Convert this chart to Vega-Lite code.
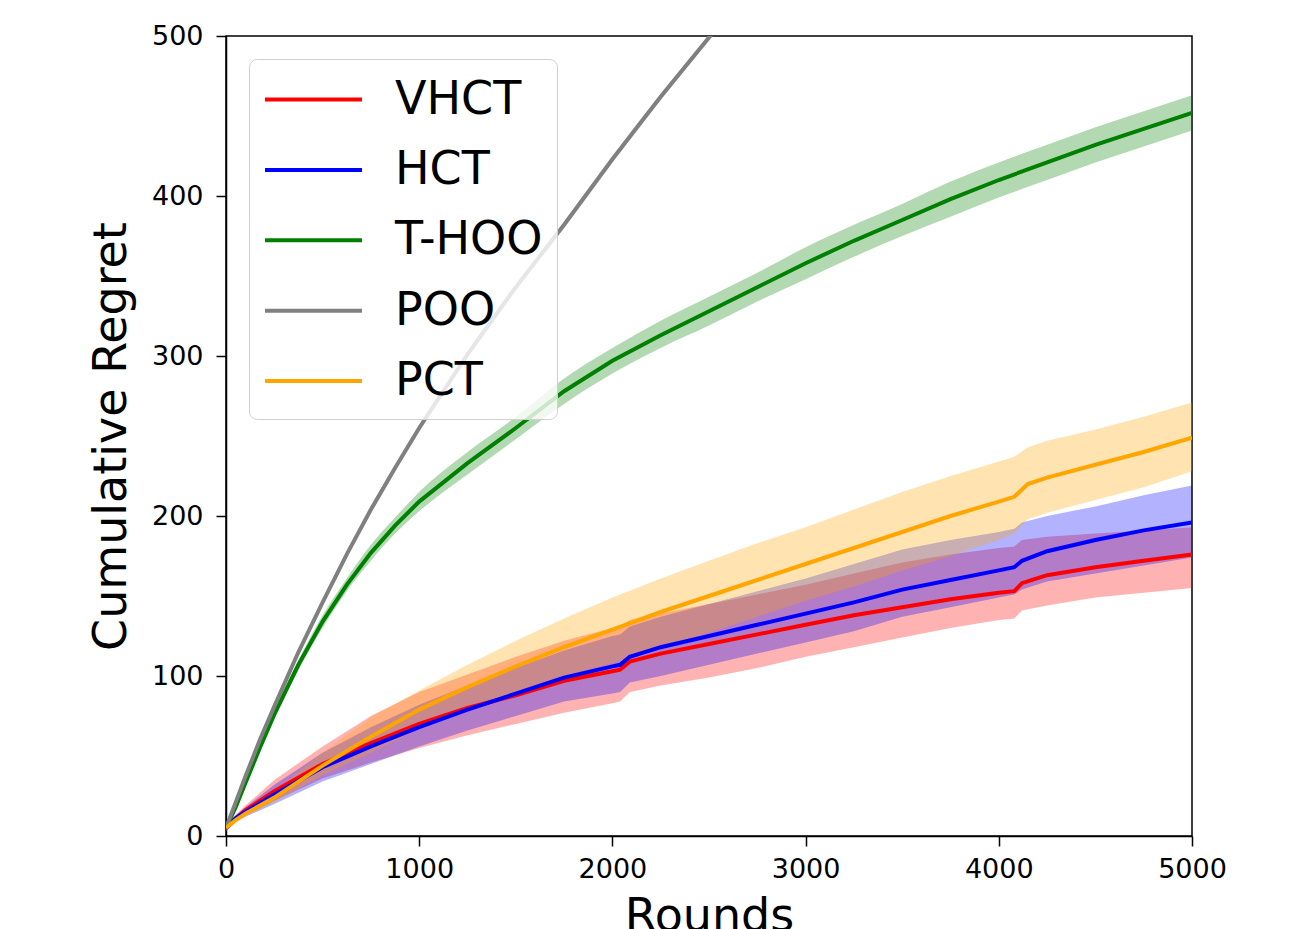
{
  "$schema": "https://vega.github.io/schema/vega-lite/v6.json",
  "autosize": {"type": "none"},
  "padding": {"left": 226, "top": 36, "right": 106, "bottom": 93},
  "width": 966,
  "height": 800,
  "background": "white",
  "config": {
    "view": {"stroke": "black", "strokeWidth": 1.5},
    "axis": {
      "grid": false,
      "domainColor": "black",
      "domainWidth": 1.5,
      "tickColor": "black",
      "tickWidth": 1.5,
      "tickSize": 10,
      "labelFont": "DejaVu Sans",
      "labelFontSize": 27,
      "labelColor": "black",
      "titleFont": "DejaVu Sans",
      "titleFontSize": 46,
      "titleFontWeight": "normal",
      "titleColor": "black"
    }
  },
  "datasets": {
    "d": [
      {"m": "VHCT", "x": 0, "y": 5, "lo": 3, "hi": 7},
      {"m": "VHCT", "x": 50, "y": 11, "lo": 9, "hi": 13},
      {"m": "VHCT", "x": 100, "y": 16, "lo": 13, "hi": 19},
      {"m": "VHCT", "x": 250, "y": 28, "lo": 22, "hi": 35},
      {"m": "VHCT", "x": 500, "y": 45, "lo": 36, "hi": 56},
      {"m": "VHCT", "x": 750, "y": 58, "lo": 46, "hi": 75},
      {"m": "VHCT", "x": 1000, "y": 70, "lo": 55, "hi": 90},
      {"m": "VHCT", "x": 1250, "y": 80, "lo": 63, "hi": 101},
      {"m": "VHCT", "x": 1500, "y": 88, "lo": 70, "hi": 112},
      {"m": "VHCT", "x": 1750, "y": 97, "lo": 77, "hi": 122},
      {"m": "VHCT", "x": 2000, "y": 103, "lo": 83, "hi": 130},
      {"m": "VHCT", "x": 2040, "y": 104, "lo": 84, "hi": 131},
      {"m": "VHCT", "x": 2090, "y": 109, "lo": 90, "hi": 135},
      {"m": "VHCT", "x": 2250, "y": 114, "lo": 94, "hi": 139},
      {"m": "VHCT", "x": 2500, "y": 120, "lo": 99, "hi": 145},
      {"m": "VHCT", "x": 2750, "y": 126, "lo": 105, "hi": 151},
      {"m": "VHCT", "x": 3000, "y": 132, "lo": 112, "hi": 157},
      {"m": "VHCT", "x": 3250, "y": 138, "lo": 118, "hi": 164},
      {"m": "VHCT", "x": 3500, "y": 143, "lo": 124, "hi": 171},
      {"m": "VHCT", "x": 3750, "y": 148, "lo": 130, "hi": 176},
      {"m": "VHCT", "x": 4000, "y": 152, "lo": 135, "hi": 180},
      {"m": "VHCT", "x": 4080, "y": 153, "lo": 136, "hi": 181},
      {"m": "VHCT", "x": 4120, "y": 158, "lo": 141, "hi": 185},
      {"m": "VHCT", "x": 4250, "y": 163, "lo": 144, "hi": 187},
      {"m": "VHCT", "x": 4500, "y": 168, "lo": 149, "hi": 189},
      {"m": "VHCT", "x": 4750, "y": 172, "lo": 152, "hi": 191},
      {"m": "VHCT", "x": 5000, "y": 176, "lo": 155, "hi": 193},

      {"m": "HCT", "x": 0, "y": 5, "lo": 3, "hi": 7},
      {"m": "HCT", "x": 50, "y": 11, "lo": 9, "hi": 13},
      {"m": "HCT", "x": 100, "y": 15, "lo": 12, "hi": 18},
      {"m": "HCT", "x": 250, "y": 26, "lo": 20, "hi": 32},
      {"m": "HCT", "x": 500, "y": 43, "lo": 34, "hi": 52},
      {"m": "HCT", "x": 750, "y": 56, "lo": 45, "hi": 68},
      {"m": "HCT", "x": 1000, "y": 68, "lo": 56, "hi": 82},
      {"m": "HCT", "x": 1250, "y": 79, "lo": 66, "hi": 94},
      {"m": "HCT", "x": 1500, "y": 89, "lo": 75, "hi": 105},
      {"m": "HCT", "x": 1750, "y": 99, "lo": 84, "hi": 116},
      {"m": "HCT", "x": 2000, "y": 106, "lo": 89, "hi": 125},
      {"m": "HCT", "x": 2040, "y": 107, "lo": 90, "hi": 126},
      {"m": "HCT", "x": 2090, "y": 112, "lo": 96, "hi": 131},
      {"m": "HCT", "x": 2250, "y": 118, "lo": 100, "hi": 137},
      {"m": "HCT", "x": 2500, "y": 125, "lo": 107, "hi": 145},
      {"m": "HCT", "x": 2750, "y": 132, "lo": 114, "hi": 153},
      {"m": "HCT", "x": 3000, "y": 139, "lo": 121, "hi": 161},
      {"m": "HCT", "x": 3250, "y": 146, "lo": 128, "hi": 170},
      {"m": "HCT", "x": 3500, "y": 154, "lo": 137, "hi": 179},
      {"m": "HCT", "x": 3750, "y": 160, "lo": 143, "hi": 185},
      {"m": "HCT", "x": 4000, "y": 166, "lo": 149, "hi": 190},
      {"m": "HCT", "x": 4080, "y": 168, "lo": 151, "hi": 192},
      {"m": "HCT", "x": 4120, "y": 172, "lo": 154, "hi": 196},
      {"m": "HCT", "x": 4250, "y": 178, "lo": 159, "hi": 200},
      {"m": "HCT", "x": 4500, "y": 185, "lo": 164, "hi": 206},
      {"m": "HCT", "x": 4750, "y": 191, "lo": 169, "hi": 213},
      {"m": "HCT", "x": 5000, "y": 196, "lo": 174, "hi": 219},

      {"m": "T-HOO", "x": 0, "y": 5, "lo": 4, "hi": 6},
      {"m": "T-HOO", "x": 50, "y": 18, "lo": 17, "hi": 19},
      {"m": "T-HOO", "x": 100, "y": 33, "lo": 31, "hi": 35},
      {"m": "T-HOO", "x": 175, "y": 55, "lo": 53, "hi": 57},
      {"m": "T-HOO", "x": 250, "y": 76, "lo": 73, "hi": 79},
      {"m": "T-HOO", "x": 375, "y": 107, "lo": 104, "hi": 110},
      {"m": "T-HOO", "x": 500, "y": 134, "lo": 130, "hi": 138},
      {"m": "T-HOO", "x": 625, "y": 157, "lo": 153, "hi": 161},
      {"m": "T-HOO", "x": 750, "y": 177, "lo": 172, "hi": 182},
      {"m": "T-HOO", "x": 875, "y": 194, "lo": 189, "hi": 199},
      {"m": "T-HOO", "x": 1000, "y": 209, "lo": 203, "hi": 215},
      {"m": "T-HOO", "x": 1250, "y": 233, "lo": 226, "hi": 240},
      {"m": "T-HOO", "x": 1500, "y": 255, "lo": 248, "hi": 262},
      {"m": "T-HOO", "x": 1750, "y": 278, "lo": 270, "hi": 286},
      {"m": "T-HOO", "x": 2000, "y": 297, "lo": 289, "hi": 305},
      {"m": "T-HOO", "x": 2250, "y": 313, "lo": 305, "hi": 322},
      {"m": "T-HOO", "x": 2500, "y": 328, "lo": 319, "hi": 337},
      {"m": "T-HOO", "x": 2750, "y": 343, "lo": 334, "hi": 352},
      {"m": "T-HOO", "x": 3000, "y": 358, "lo": 348, "hi": 368},
      {"m": "T-HOO", "x": 3250, "y": 372, "lo": 362, "hi": 382},
      {"m": "T-HOO", "x": 3500, "y": 385, "lo": 375, "hi": 395},
      {"m": "T-HOO", "x": 3750, "y": 398, "lo": 387, "hi": 409},
      {"m": "T-HOO", "x": 4000, "y": 410, "lo": 399, "hi": 421},
      {"m": "T-HOO", "x": 4250, "y": 421, "lo": 410, "hi": 432},
      {"m": "T-HOO", "x": 4500, "y": 432, "lo": 421, "hi": 443},
      {"m": "T-HOO", "x": 4750, "y": 442, "lo": 431, "hi": 453},
      {"m": "T-HOO", "x": 5000, "y": 452, "lo": 441, "hi": 463},

      {"m": "POO", "x": 0, "y": 5, "lo": 4, "hi": 6},
      {"m": "POO", "x": 50, "y": 21, "lo": 20, "hi": 22},
      {"m": "POO", "x": 100, "y": 37, "lo": 36, "hi": 38},
      {"m": "POO", "x": 175, "y": 60, "lo": 59, "hi": 61},
      {"m": "POO", "x": 250, "y": 81, "lo": 79, "hi": 83},
      {"m": "POO", "x": 375, "y": 115, "lo": 113, "hi": 117},
      {"m": "POO", "x": 500, "y": 146, "lo": 144, "hi": 148},
      {"m": "POO", "x": 625, "y": 176, "lo": 174, "hi": 178},
      {"m": "POO", "x": 750, "y": 204, "lo": 202, "hi": 206},
      {"m": "POO", "x": 875, "y": 230, "lo": 228, "hi": 232},
      {"m": "POO", "x": 1000, "y": 255, "lo": 253, "hi": 257},
      {"m": "POO", "x": 1250, "y": 301, "lo": 299, "hi": 303},
      {"m": "POO", "x": 1500, "y": 343, "lo": 341, "hi": 345},
      {"m": "POO", "x": 1750, "y": 382, "lo": 380, "hi": 384},
      {"m": "POO", "x": 2000, "y": 423, "lo": 421, "hi": 425},
      {"m": "POO", "x": 2250, "y": 462, "lo": 460, "hi": 464},
      {"m": "POO", "x": 2500, "y": 499, "lo": 497, "hi": 501},
      {"m": "POO", "x": 2600, "y": 514, "lo": 512, "hi": 516},

      {"m": "PCT", "x": 0, "y": 5, "lo": 3, "hi": 7},
      {"m": "PCT", "x": 50, "y": 10, "lo": 8, "hi": 12},
      {"m": "PCT", "x": 100, "y": 14, "lo": 12, "hi": 16},
      {"m": "PCT", "x": 250, "y": 24, "lo": 21, "hi": 28},
      {"m": "PCT", "x": 500, "y": 44, "lo": 38, "hi": 52},
      {"m": "PCT", "x": 750, "y": 62, "lo": 52, "hi": 74},
      {"m": "PCT", "x": 1000, "y": 79, "lo": 67, "hi": 91},
      {"m": "PCT", "x": 1250, "y": 93, "lo": 79, "hi": 107},
      {"m": "PCT", "x": 1500, "y": 106, "lo": 90, "hi": 122},
      {"m": "PCT", "x": 1750, "y": 118, "lo": 100, "hi": 136},
      {"m": "PCT", "x": 2000, "y": 129, "lo": 108, "hi": 149},
      {"m": "PCT", "x": 2250, "y": 140, "lo": 118, "hi": 161},
      {"m": "PCT", "x": 2500, "y": 150, "lo": 127, "hi": 172},
      {"m": "PCT", "x": 2750, "y": 160, "lo": 137, "hi": 183},
      {"m": "PCT", "x": 3000, "y": 170, "lo": 147, "hi": 193},
      {"m": "PCT", "x": 3250, "y": 180, "lo": 156, "hi": 204},
      {"m": "PCT", "x": 3500, "y": 190, "lo": 166, "hi": 215},
      {"m": "PCT", "x": 3750, "y": 200, "lo": 175, "hi": 225},
      {"m": "PCT", "x": 4000, "y": 209, "lo": 185, "hi": 234},
      {"m": "PCT", "x": 4080, "y": 212, "lo": 189, "hi": 237},
      {"m": "PCT", "x": 4150, "y": 220, "lo": 198, "hi": 243},
      {"m": "PCT", "x": 4250, "y": 224, "lo": 202, "hi": 247},
      {"m": "PCT", "x": 4500, "y": 232, "lo": 210, "hi": 254},
      {"m": "PCT", "x": 4750, "y": 240, "lo": 218, "hi": 262},
      {"m": "PCT", "x": 5000, "y": 249, "lo": 228, "hi": 271}
    ]
  },
  "data": {"name": "d"},
  "encoding": {
    "x": {
      "field": "x",
      "type": "quantitative",
      "scale": {"domain": [0, 5000], "nice": false, "zero": false},
      "axis": {"values": [0, 1000, 2000, 3000, 4000, 5000], "format": "d", "title": "Rounds", "labelPadding": 10, "titleBaseline": "alphabetic", "titleY": 94, "labelFlush": false}
    }
  },
  "layer": [
    {
      "transform": [{"filter": "datum.m === 'VHCT'"}],
      "mark": {"type": "area", "color": "#ff0000", "opacity": 0.3, "clip": true},
      "encoding": {
        "y": {"field": "lo", "type": "quantitative", "scale": {"domain": [0, 500], "nice": false}, "axis": {"values": [0, 100, 200, 300, 400, 500], "title": "Cumulative Regret", "labelPadding": 13, "titleBaseline": "bottom", "titleX": -91, "labelFlush": false}},
        "y2": {"field": "hi"}
      }
    },
    {
      "transform": [{"filter": "datum.m === 'HCT'"}],
      "mark": {"type": "area", "color": "#0000ff", "opacity": 0.3, "clip": true},
      "encoding": {
        "y": {"field": "lo", "type": "quantitative"},
        "y2": {"field": "hi"}
      }
    },
    {
      "transform": [{"filter": "datum.m === 'T-HOO'"}],
      "mark": {"type": "area", "color": "#008000", "opacity": 0.3, "clip": true, "interpolate": "monotone"},
      "encoding": {
        "y": {"field": "lo", "type": "quantitative"},
        "y2": {"field": "hi"}
      }
    },
    {
      "transform": [{"filter": "datum.m === 'POO'"}],
      "mark": {"type": "area", "color": "#808080", "opacity": 0.3, "clip": true, "interpolate": "monotone"},
      "encoding": {
        "y": {"field": "lo", "type": "quantitative"},
        "y2": {"field": "hi"}
      }
    },
    {
      "transform": [{"filter": "datum.m === 'PCT'"}],
      "mark": {"type": "area", "color": "#ffa500", "opacity": 0.3, "clip": true},
      "encoding": {
        "y": {"field": "lo", "type": "quantitative"},
        "y2": {"field": "hi"}
      }
    },
    {
      "mark": {"type": "line", "strokeWidth": 4, "clip": true},
      "encoding": {
        "y": {"field": "y", "type": "quantitative"},
        "color": {
          "field": "m",
          "type": "nominal",
          "scale": {"domain": ["VHCT", "HCT", "T-HOO", "POO", "PCT"], "range": ["#ff0000", "#0000ff", "#008000", "#808080", "#ffa500"]},
          "legend": {
            "orient": "none",
            "legendX": 23,
            "legendY": 23,
            "title": null,
            "symbolType": "M-2,0H2",
            "symbolSize": 2352,
            "symbolStrokeWidth": 4,
            "symbolOffset": 24,
            "labelFontSize": 46,
            "labelFont": "DejaVu Sans",
            "labelColor": "black",
            "labelOffset": 55,
            "labelExpr": "datum.label + '\u00a0'",
            "rowPadding": 20.4,
            "padding": 14,
            "strokeColor": "#d0d0d0",
            "cornerRadius": 8,
            "fillColor": "rgba(255,255,255,0.8)",
            "labelLimit": 400
          }
        }
      }
    }
  ]
}
